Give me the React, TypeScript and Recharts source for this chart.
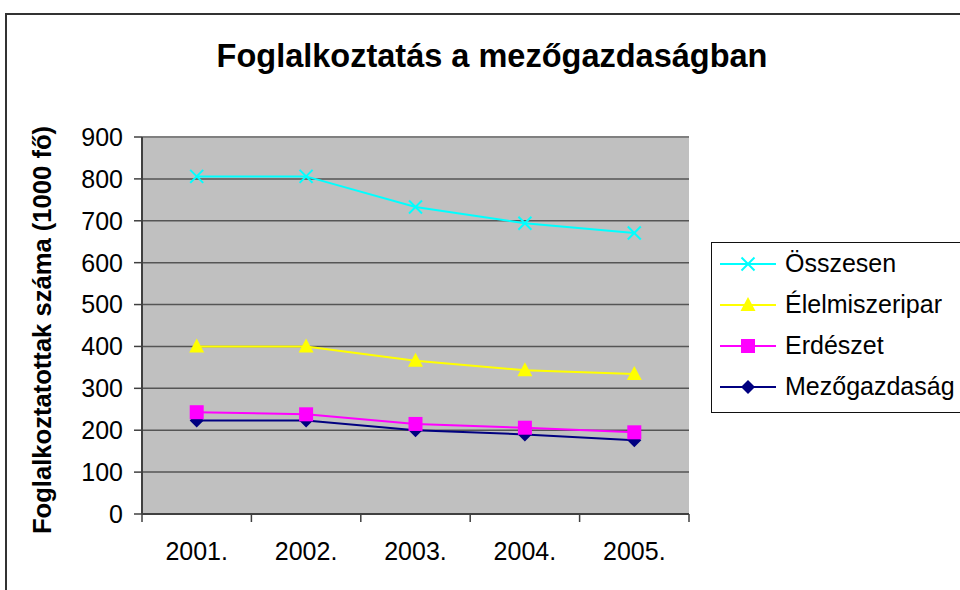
import { LineChart, Line, XAxis, YAxis, CartesianGrid, Legend, ReferenceLine } from "recharts";

const years = ["2001.", "2002.", "2003.", "2004.", "2005."];
const osszesen = [806, 806, 733, 694, 671];
const elelmiszeripar = [400, 400, 366, 343, 334];
const erdeszet = [243, 238, 215, 206, 195];
const mezogazdasag = [223, 223, 200, 190, 176];
const yTicks = [0, 100, 200, 300, 400, 500, 600, 700, 800, 900];

const FONT = '"Liberation Sans", Arial, sans-serif';

const W = 960;
const H = 590;
const margin = { top: 137, right: 271, bottom: 16, left: 80 };
const yAxisWidth = 62;
const plotWidth = W - margin.left - margin.right - yAxisWidth;
const halfStep = plotWidth / years.length / 2;

const data = years.map((year, i) => ({
  year,
  osszesen: osszesen[i],
  elelmiszeripar: elelmiszeripar[i],
  erdeszet: erdeszet[i],
  mezogazdasag: mezogazdasag[i],
}));

type Shape = "x" | "triangle" | "square" | "diamond";

function Marker({ cx, cy, shape, color }: { cx: number; cy: number; shape: Shape; color: string }) {
  if (shape === "x") {
    const r = 6.5;
    return (
      <g stroke={color} strokeWidth={2}>
        <line x1={cx - r} y1={cy - r} x2={cx + r} y2={cy + r} />
        <line x1={cx - r} y1={cy + r} x2={cx + r} y2={cy - r} />
      </g>
    );
  }
  if (shape === "triangle") {
    return <polygon points={`${cx},${cy - 8} ${cx - 7.5},${cy + 6} ${cx + 7.5},${cy + 6}`} fill={color} />;
  }
  if (shape === "square") {
    return <rect x={cx - 7} y={cy - 7} width={14} height={14} fill={color} />;
  }
  return <polygon points={`${cx},${cy - 7} ${cx + 7},${cy} ${cx},${cy + 7} ${cx - 7},${cy}`} fill={color} />;
}

// category label + Excel-style tick marks on the category boundaries
function YearTick(props: any) {
  const { x, y, payload, index } = props;
  const axisY = y - 28;
  return (
    <g>
      <line x1={x - halfStep} y1={axisY} x2={x - halfStep} y2={axisY + 8} stroke="#404040" strokeWidth={1.5} />
      {index === years.length - 1 && (
        <line x1={x + halfStep} y1={axisY} x2={x + halfStep} y2={axisY + 8} stroke="#404040" strokeWidth={1.5} />
      )}
      <text x={x} y={y} dy="0.71em" textAnchor="middle" fill="#000" fontSize={25} fontFamily={FONT}>
        {payload.value}
      </text>
    </g>
  );
}

// drawn bottom-up like Excel; legend lists them the other way round
const series: { key: string; name: string; color: string; shape: Shape }[] = [
  { key: "mezogazdasag", name: "Mezőgazdaság", color: "#000080", shape: "diamond" },
  { key: "erdeszet", name: "Erdészet", color: "#ff00ff", shape: "square" },
  { key: "elelmiszeripar", name: "Élelmiszeripar", color: "#ffff00", shape: "triangle" },
  { key: "osszesen", name: "Összesen", color: "#00ffff", shape: "x" },
];

function LegendBox() {
  const items = [...series].reverse();
  return (
    <div
      style={{
        width: 262,
        height: 171,
        boxSizing: "border-box",
        border: "1.5px solid #111",
        background: "#fff",
        fontFamily: FONT,
        fontSize: 25,
        color: "#000",
      }}
    >
      {items.map((s) => (
        <div key={s.key} style={{ height: 41, display: "flex", alignItems: "center" }}>
          <svg width={68} height={24} style={{ marginLeft: 6, flex: "none" }}>
            <line x1={2} y1={12} x2={58} y2={12} stroke={s.color} strokeWidth={2} />
            <Marker cx={30} cy={12} shape={s.shape} color={s.color} />
          </svg>
          <span style={{ marginLeft: -1, whiteSpace: "nowrap" }}>{s.name}</span>
        </div>
      ))}
    </div>
  );
}

export default function App() {
  return (
    <div style={{ position: "absolute", left: 0, top: 0, width: W, height: H, overflow: "hidden", background: "#fff" }}>
      <div
        style={{
          position: "absolute",
          left: 5,
          top: 13,
          width: 1200,
          height: 1200,
          borderLeft: "2px solid #333",
          borderTop: "2px solid #333",
        }}
      />
      <div
        style={{
          position: "absolute",
          left: 0,
          width: 984,
          top: 38,
          textAlign: "center",
          fontFamily: FONT,
          fontWeight: "bold",
          fontSize: 32.5,
          lineHeight: "36px",
          color: "#000",
        }}
      >
        Foglalkoztatás a mezőgazdaságban
      </div>
      <div style={{ position: "absolute", left: 0, top: 0 }}>
        <LineChart width={W} height={H} data={data} margin={margin}>
          <CartesianGrid vertical={false} fill="#c0c0c0" stroke="#555" strokeWidth={1.5} />
          <XAxis
            dataKey="year"
            height={60}
            padding={{ left: halfStep, right: halfStep }}
            tickSize={0}
            tickMargin={28}
            tickLine={false}
            axisLine={{ stroke: "#404040", strokeWidth: 2 }}
            tick={YearTick}
          />
          <YAxis
            domain={[0, 900]}
            ticks={yTicks}
            width={yAxisWidth}
            tickSize={8}
            tickMargin={11}
            interval={0}
            tickLine={{ stroke: "#404040", strokeWidth: 1.5 }}
            axisLine={{ stroke: "#404040", strokeWidth: 2 }}
            tick={{ fill: "#000", fontSize: 25, fontFamily: FONT }}
            label={{
              content: () => (
                <text
                  x={42}
                  y={330}
                  transform="rotate(-90 42 330)"
                  textAnchor="middle"
                  dominantBaseline="central"
                  fontFamily={FONT}
                  fontWeight="bold"
                  fontSize={25.6}
                  fill="#000"
                >
                  Foglalkoztatottak száma (1000 fő)
                </text>
              ),
            }}
          />
          <YAxis
            yAxisId="right"
            orientation="right"
            domain={[0, 900]}
            width={0}
            tick={false}
            tickLine={false}
            axisLine={{ stroke: "#808080", strokeWidth: 2 }}
          />
          <ReferenceLine y={900} stroke="#808080" strokeWidth={2} />
          {series.map((s) => (
            <Line
              key={s.key}
              type="linear"
              dataKey={s.key}
              name={s.name}
              stroke={s.color}
              strokeWidth={2}
              isAnimationActive={false}
              activeDot={false}
              dot={(p: any) => <Marker key={`${s.key}-${p.index}`} cx={p.cx} cy={p.cy} shape={s.shape} color={s.color} />}
            />
          ))}
          <Legend
            layout="vertical"
            align="center"
            verticalAlign="middle"
            wrapperStyle={{ left: 711, top: 242, width: 262, height: 171 }}
            content={() => <LegendBox />}
          />
        </LineChart>
      </div>
    </div>
  );
}
